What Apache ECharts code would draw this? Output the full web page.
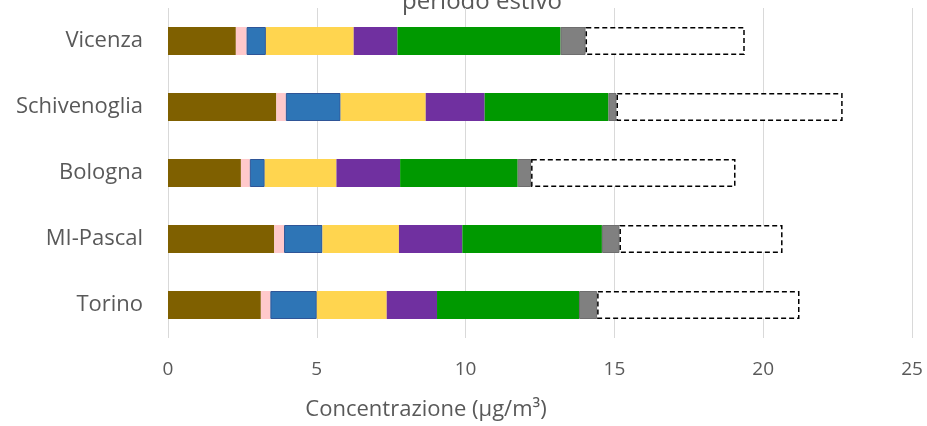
<!DOCTYPE html>
<html><head><meta charset="utf-8">
<script src="https://cdn.jsdelivr.net/npm/echarts@6/dist/echarts.min.js"></script>
<style>html,body{margin:0;padding:0;background:#fff}#c{width:927px;height:426px}</style>
</head><body><div id="c"></div>
<script>
const categories = ['Torino', 'MI-Pascal', 'Bologna', 'Schivenoglia', 'Vicenza'];
const brown  = [3.12, 3.57, 2.45, 3.64, 2.28];
const pink   = [0.32, 0.33, 0.30, 0.32, 0.36];
const blue   = [1.56, 1.29, 0.50, 1.84, 0.65];
const yellow = [2.35, 2.57, 2.41, 2.86, 2.95];
const purple = [1.69, 2.13, 2.14, 1.98, 1.47];
const green  = [4.77, 4.69, 3.95, 4.16, 5.48];
const gray   = [0.61, 0.59, 0.45, 0.27, 0.84];
const other  = [6.80, 5.48, 6.87, 7.60, 5.35];
const xTicks = [0, 5, 10, 15, 20, 25];

const font = '"Open Sans", "Noto Sans", sans-serif';
const txt = '#595959';
function seg(name, data, color, extra) {
  return Object.assign({
    name, type: 'bar', stack: 'tot', data, barWidth: 28,
    itemStyle: { color }, silent: true
  }, extra || {});
}
const chart = echarts.init(document.getElementById('c'), null, {renderer: 'canvas'});
chart.setOption({
  animation: false,
  grid: { left: 168, right: 15, top: 8, bottom: 88, containLabel: false },
  xAxis: {
    type: 'value', min: xTicks[0], max: xTicks[xTicks.length - 1], interval: 5,
    axisLine: { show: false }, axisTick: { show: false },
    splitLine: { lineStyle: { color: '#D9D9D9', width: 1 } },
    axisLabel: { color: txt, fontFamily: font, fontSize: 19, margin: 22 }
  },
  yAxis: {
    type: 'category', data: categories,
    axisLine: { show: false }, axisTick: { show: false },
    axisLabel: { color: txt, fontFamily: font, fontSize: 22, margin: 25 }
  },
  graphic: [{
    type: 'text', x: 482, y: -10,
    style: { text: 'periodo estivo', fill: txt, font: '24px ' + font, align: 'center' }
  }, {
    type: 'text', x: 426, y: 410,
    style: { text: 'Concentrazione (µg/m³)', fill: txt, font: '22px ' + font, align: 'center', verticalAlign: 'middle' }
  }],
  series: [
    seg('brown', brown, '#7F6000'),
    seg('pink', pink, '#FFC9CB'),
    seg('blue', blue, '#2E75B6', { itemStyle: { color: '#2E75B6', borderColor: '#2F5597', borderWidth: 1 } }),
    seg('yellow', yellow, '#FFD54F'),
    seg('purple', purple, '#7030A0'),
    seg('green', green, '#009900'),
    seg('gray', gray, '#808080', { itemStyle: { color: '#808080', borderColor: '#6E6E6E', borderWidth: 1 } }),
    seg('other', other, '#ffffff', { itemStyle: { color: '#ffffff', borderColor: '#000000', borderWidth: 1.5, borderType: [5, 3] } })
  ]
});
</script></body></html>
